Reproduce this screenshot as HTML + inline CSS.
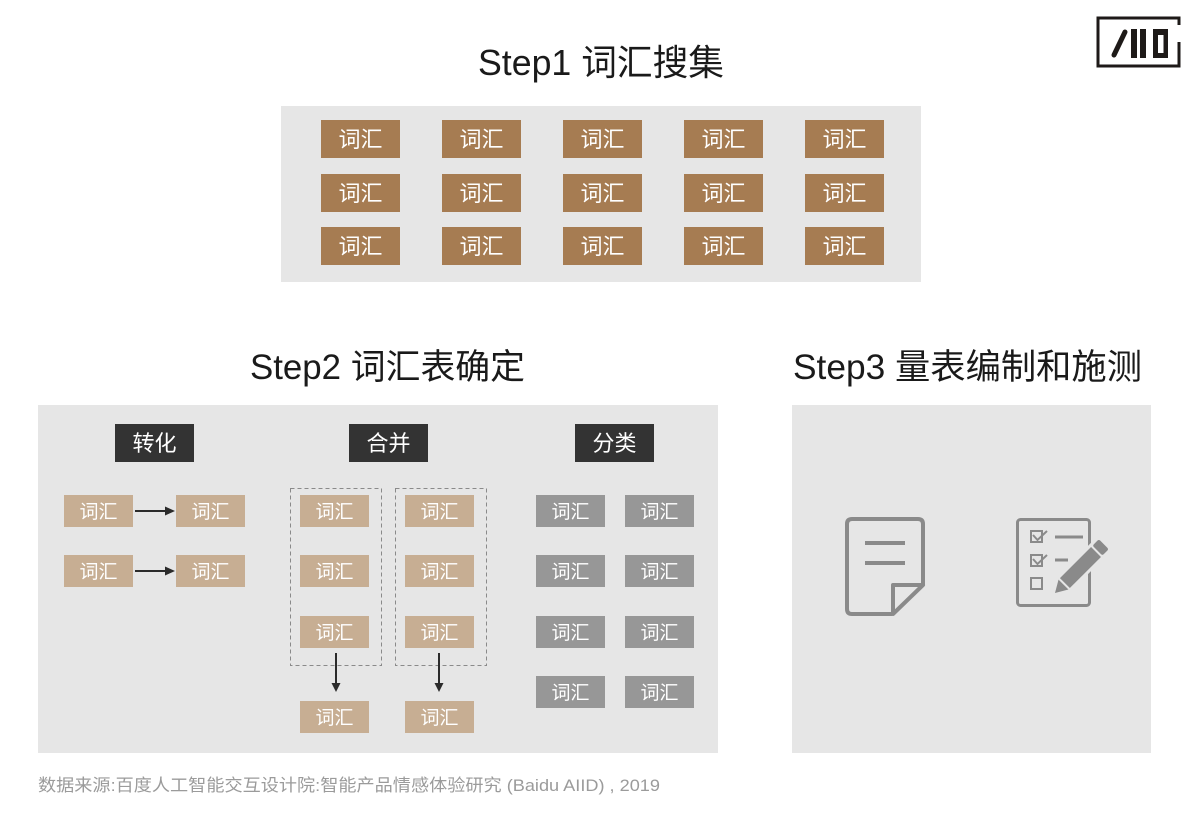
<!DOCTYPE html>
<html>
<head>
<meta charset="utf-8">
<style>
html,body{margin:0;padding:0;background:#fff;}
svg{display:block;}
text{font-family:"Liberation Sans","Noto Sans CJK SC",sans-serif;}
</style>
</head>
<body>
<svg width="1200" height="831" viewBox="0 0 1200 831" xmlns="http://www.w3.org/2000/svg">
  <rect x="0" y="0" width="1200" height="831" fill="#ffffff"/>

  <!-- Logo -->
  <g fill="none" stroke="#1e1a18" stroke-width="3">
    <path d="M1179 25 V18 H1098 V66 H1179 V42"/>
  </g>
  <line x1="1114" y1="55" x2="1125" y2="32" stroke="#1e1a18" stroke-width="5" stroke-linecap="round"/>
  <rect x="1131" y="29" width="6" height="29" fill="#1e1a18"/>
  <rect x="1140" y="29" width="6" height="29" fill="#1e1a18"/>
  <path d="M1153 29 H1168 V58 H1153 Z M1158 35 V53 H1163.5 V35 Z" fill="#1e1a18" fill-rule="evenodd"/>

  <!-- Titles -->
  <text x="478" y="75" font-size="36" fill="#1a1a1a" textLength="246" lengthAdjust="spacingAndGlyphs">Step1 词汇搜集</text>
  <text x="250" y="379" font-size="35" fill="#1a1a1a" textLength="275" lengthAdjust="spacingAndGlyphs">Step2 词汇表确定</text>
  <text x="793" y="379" font-size="35" fill="#1a1a1a" textLength="349" lengthAdjust="spacingAndGlyphs">Step3 量表编制和施测</text>

  <!-- Step1 panel -->
  <rect x="281" y="106" width="640" height="176" fill="#e6e6e6"/>
  <g fill="#a67c52">
    <rect x="321" y="120" width="79" height="38"/><rect x="442" y="120" width="79" height="38"/><rect x="563" y="120" width="79" height="38"/><rect x="684" y="120" width="79" height="38"/><rect x="805" y="120" width="79" height="38"/>
    <rect x="321" y="174" width="79" height="38"/><rect x="442" y="174" width="79" height="38"/><rect x="563" y="174" width="79" height="38"/><rect x="684" y="174" width="79" height="38"/><rect x="805" y="174" width="79" height="38"/>
    <rect x="321" y="227" width="79" height="38"/><rect x="442" y="227" width="79" height="38"/><rect x="563" y="227" width="79" height="38"/><rect x="684" y="227" width="79" height="38"/><rect x="805" y="227" width="79" height="38"/>
  </g>
  <g font-size="22" fill="#ffffff" text-anchor="middle">
    <text x="360.5" y="147">词汇</text><text x="481.5" y="147">词汇</text><text x="602.5" y="147">词汇</text><text x="723.5" y="147">词汇</text><text x="844.5" y="147">词汇</text>
    <text x="360.5" y="201">词汇</text><text x="481.5" y="201">词汇</text><text x="602.5" y="201">词汇</text><text x="723.5" y="201">词汇</text><text x="844.5" y="201">词汇</text>
    <text x="360.5" y="254">词汇</text><text x="481.5" y="254">词汇</text><text x="602.5" y="254">词汇</text><text x="723.5" y="254">词汇</text><text x="844.5" y="254">词汇</text>
  </g>

  <!-- Step2 panel -->
  <rect x="38" y="405" width="680" height="348" fill="#e6e6e6"/>
  <g fill="#333333">
    <rect x="115" y="424" width="79" height="38"/>
    <rect x="349" y="424" width="79" height="38"/>
    <rect x="575" y="424" width="79" height="38"/>
  </g>
  <g font-size="22" fill="#ffffff" text-anchor="middle">
    <text x="154.5" y="451">转化</text>
    <text x="388.5" y="451">合并</text>
    <text x="614.5" y="451">分类</text>
  </g>

  <!-- dashed groups -->
  <g fill="none" stroke="#8a8a8a" stroke-width="1" stroke-dasharray="4 3">
    <rect x="290.5" y="488.5" width="91" height="177"/>
    <rect x="395.5" y="488.5" width="91" height="177"/>
  </g>

  <!-- tan boxes -->
  <g fill="#c7ae93">
    <rect x="64" y="495" width="69" height="32"/><rect x="176" y="495" width="69" height="32"/>
    <rect x="64" y="555" width="69" height="32"/><rect x="176" y="555" width="69" height="32"/>
    <rect x="300" y="495" width="69" height="32"/><rect x="300" y="555" width="69" height="32"/><rect x="300" y="616" width="69" height="32"/><rect x="300" y="701" width="69" height="32"/>
    <rect x="405" y="495" width="69" height="32"/><rect x="405" y="555" width="69" height="32"/><rect x="405" y="616" width="69" height="32"/><rect x="405" y="701" width="69" height="32"/>
  </g>
  <!-- gray boxes -->
  <g fill="#979797">
    <rect x="536" y="495" width="69" height="32"/><rect x="625" y="495" width="69" height="32"/>
    <rect x="536" y="555" width="69" height="32"/><rect x="625" y="555" width="69" height="32"/>
    <rect x="536" y="616" width="69" height="32"/><rect x="625" y="616" width="69" height="32"/>
    <rect x="536" y="676" width="69" height="32"/><rect x="625" y="676" width="69" height="32"/>
  </g>
  <g font-size="19" fill="#ffffff" text-anchor="middle">
    <text x="98.5" y="518">词汇</text><text x="210.5" y="518">词汇</text>
    <text x="98.5" y="578">词汇</text><text x="210.5" y="578">词汇</text>
    <text x="334.5" y="518">词汇</text><text x="334.5" y="578">词汇</text><text x="334.5" y="639">词汇</text><text x="334.5" y="724">词汇</text>
    <text x="439.5" y="518">词汇</text><text x="439.5" y="578">词汇</text><text x="439.5" y="639">词汇</text><text x="439.5" y="724">词汇</text>
    <text x="570.5" y="518">词汇</text><text x="659.5" y="518">词汇</text>
    <text x="570.5" y="578">词汇</text><text x="659.5" y="578">词汇</text>
    <text x="570.5" y="639">词汇</text><text x="659.5" y="639">词汇</text>
    <text x="570.5" y="699">词汇</text><text x="659.5" y="699">词汇</text>
  </g>

  <!-- arrows -->
  <g stroke="#2b2b2b" stroke-width="2">
    <line x1="135" y1="511" x2="166" y2="511"/>
    <line x1="135" y1="571" x2="166" y2="571"/>
    <line x1="336" y1="653" x2="336" y2="684"/>
    <line x1="439" y1="653" x2="439" y2="684"/>
  </g>
  <g fill="#2b2b2b">
    <polygon points="165,506.5 175,511 165,515.5"/>
    <polygon points="165,566.5 175,571 165,575.5"/>
    <polygon points="331.5,683 340.5,683 336,692"/>
    <polygon points="434.5,683 443.5,683 439,692"/>
  </g>

  <!-- Step3 panel -->
  <rect x="792" y="405" width="359" height="348" fill="#e6e6e6"/>

  <!-- document icon -->
  <g fill="none" stroke="#8a8a8a" stroke-width="4" stroke-linejoin="round">
    <path d="M892 614 H852 Q847 614 847 609 V524 Q847 519 852 519 H918 Q923 519 923 524 V585"/>
    <path d="M923 585 H893 V614 Z"/>
    <line x1="865" y1="543" x2="905" y2="543"/>
    <line x1="865" y1="563" x2="905" y2="563"/>
  </g>

  <!-- checklist icon -->
  <g fill="none" stroke="#8a8a8a">
    <rect x="1017.5" y="519.5" width="72" height="86" rx="3" stroke-width="3"/>
    <rect x="1031" y="531" width="11" height="11" stroke-width="2"/>
    <rect x="1031" y="555" width="11" height="11" stroke-width="2"/>
    <rect x="1031" y="578" width="11" height="11" stroke-width="2"/>
    <polyline points="1033,535 1037.5,540 1047,531" stroke-width="2"/>
    <polyline points="1033,559 1037.5,564 1047,555" stroke-width="2"/>
    <line x1="1055" y1="537" x2="1083" y2="537" stroke-width="3"/>
    <line x1="1055" y1="560" x2="1068" y2="560" stroke-width="3"/>
  </g>
  <g transform="translate(1055,593) rotate(-45)">
    <rect x="-2" y="-10" width="74" height="20" fill="#e6e6e6"/>
    <polygon points="0,0 12,-7 12,7" fill="#8a8a8a"/>
    <rect x="14" y="-7" width="44" height="14" fill="#8a8a8a"/>
    <rect x="60" y="-7" width="9" height="14" rx="2" fill="#8a8a8a"/>
  </g>

  <!-- footer -->
  <text x="38" y="791" font-size="17" fill="#9b9b9b" textLength="622" lengthAdjust="spacingAndGlyphs">数据来源:百度人工智能交互设计院:智能产品情感体验研究 (Baidu AIID) , 2019</text>
</svg>
</body>
</html>
